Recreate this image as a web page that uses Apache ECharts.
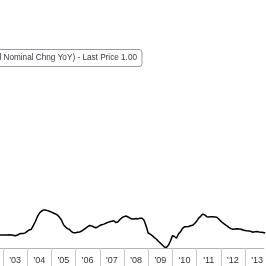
<!DOCTYPE html>
<html>
<head>
<meta charset="utf-8">
<script src="https://cdn.jsdelivr.net/npm/echarts@6/dist/echarts.min.js"></script>
<style>
html,body{margin:0;padding:0;background:#fff;}
#chart{width:266px;height:266px;}
</style>
</head>
<body>
<div id="chart"></div>
<script>
// Monthly series, starting November 2002
const startYear = 2002;
const startMonth = 11;
const values = [
  0.87,0.87,0.87,0.87,0.87,0.89,0.87,0.85,0.82,0.85,0.93,0.97,
  0.96,1.01,1.11,1.21,1.24,1.49,1.75,2.07,2.31,2.45,2.53,2.53,
  2.49,2.45,2.39,2.33,2.27,2.20,2.05,1.87,1.55,1.40,1.29,1.23,
  1.09,1.01,1.02,1.05,1.07,1.13,1.22,1.33,1.43,1.50,1.47,1.40,
  1.35,1.41,1.50,1.55,1.59,1.65,1.71,1.75,1.79,1.82,1.69,1.75,
  1.90,2.02,2.09,2.13,2.07,1.99,1.93,1.93,1.97,1.94,1.99,1.99,
  1.83,1.45,1.00,0.92,0.83,0.69,0.60,0.45,0.33,0.20,0.07,0.03,
  0.18,0.47,0.82,0.77,0.65,0.93,1.08,1.31,1.41,1.42,1.43,1.48,
  1.51,1.63,1.79,1.99,2.11,2.26,2.21,2.09,2.07,2.09,2.09,2.07,
  2.05,1.93,1.79,1.67,1.57,1.48,1.38,1.29,1.25,1.27,1.29,1.27,
  1.25,1.20,1.17,1.15,1.14,1.10,1.05,1.09,1.10,1.07,1.05,1.03,
  1.00
];
const yearTicks = [2003,2004,2005,2006,2007,2008,2009,2010,2011,2012,2013];
const yearLabelPositions = [2003.5,2004.5,2005.5,2006.5,2007.5,2008.5,2009.5,2010.5,2011.5,2012.5,2013.5];
const legendText = 'l Nominal Chng YoY) - Last Price 1.00';

const seriesData = values.map((v, i) => [startYear + (startMonth - 1 + i) / 12, v]);

const chart = echarts.init(document.getElementById('chart'), null, {renderer: 'canvas'});
chart.setOption({
  animation: false,
  backgroundColor: '#ffffff',
  grid: {left: 0, right: 0, top: 53, bottom: 18, containLabel: false},
  xAxis: {
    type: 'value',
    min: 2002.877,
    max: 2013.779,
    axisLine: {show: true, lineStyle: {color: '#b4b4b4', width: 1}},
    axisTick: {show: true, customValues: yearTicks, length: 18, inside: false,
      lineStyle: {color: '#c8c8d0', width: 1}},
    axisLabel: {show: true, customValues: yearLabelPositions, margin: 8,
      color: '#333', fontSize: 9, fontFamily: 'Liberation Sans',
      formatter: v => "'" + String(Math.floor(v)).slice(2)},
    splitLine: {show: false}
  },
  yAxis: {
    type: 'value', min: 0, max: 13, show: false, splitLine: {show: false}
  },
  series: [{
    type: 'line',
    data: seriesData,
    showSymbol: false,
    lineStyle: {color: '#000', width: 1.5},
    clip: false
  }],
  graphic: [{
    type: 'group',
    children: [
      {type: 'rect', shape: {x: -10, y: 49.5, width: 152, height: 17, r: 3},
       style: {fill: '#fff', stroke: '#9a9a9a', lineWidth: 1}},
      {type: 'text', x: 137, y: 58,
       style: {text: legendText, align: 'right', verticalAlign: 'middle',
         fill: '#333b46', fontSize: 8.2, fontFamily: 'Liberation Sans'}}
    ]
  }]
});
</script>
</body>
</html>
